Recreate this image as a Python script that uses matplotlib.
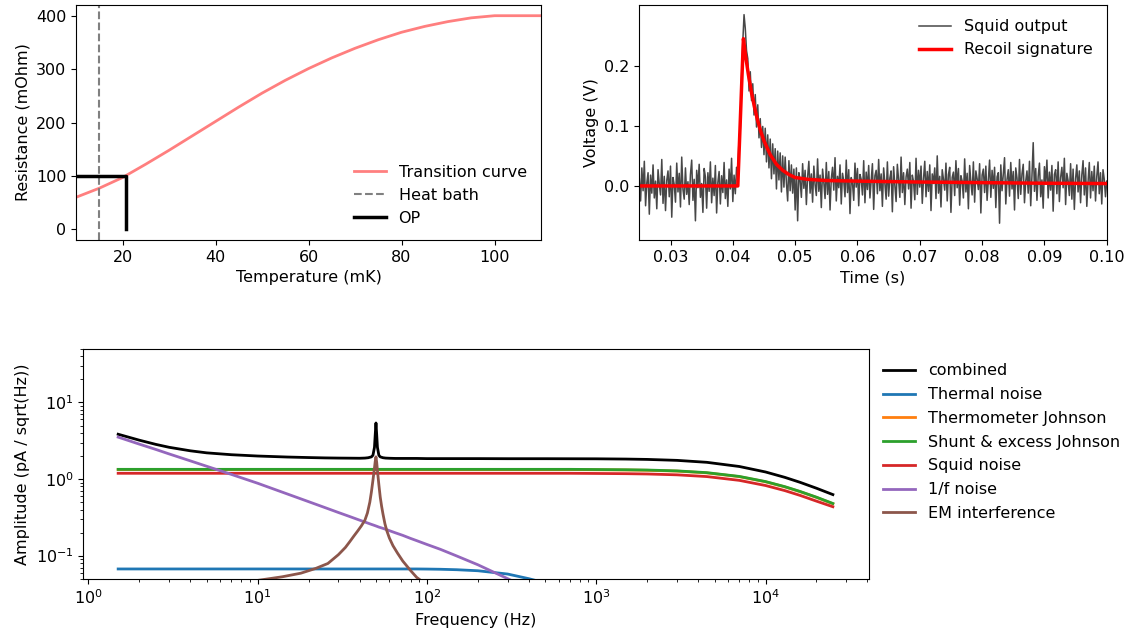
import matplotlib
matplotlib.use('Agg')
import matplotlib.pyplot as plt
import numpy as np

plt.rcParams['font.size'] = 11.5

# ---------------- transition curve ----------------
temp_mK = [10, 15, 20, 25, 30, 35, 40, 45, 50, 55, 60, 65, 70, 75, 80, 85, 90, 95, 100, 105, 110]
res_mOhm = [60, 77, 97, 122, 148, 175, 202, 229, 255, 279, 301, 321, 339, 355, 369, 380, 389, 396, 400, 400, 400]
bath_T = 15
op_T = 20.8
op_R = 100

# ---------------- squid trace (mV, 0.2 ms sampling from 25 ms) ----------------
t_start = 0.025
t_step = 0.0002
squid_mV = [
    12, -25, 30, -8, 41, -33, 5, 22, -47, 18, -12, 35, -20, 8, -38, 27, 3, -15, 44, -29,
    16, -41, 9, 25, -18, 33, -52, 14, 2, -27, 38, -10, 21, -35, 48, -6, -22, 30, -14, 7,
    -31, 19, 43, -24, 11, -58, 26, -3, 36, -19, 4, -44, 29, 15, -37, 22, -9, 40, -28, 13,
    -16, 34, -45, 6, 24, -30, 17, -11, 39, -21, 10, -34, 28, -5, 46, -26, 18, -13, 31,
    25, 80, 95, 180, 240, 285, 262, 225, 212, 158, 190, 142, 170, 118, 152, 98, 135, 80, 112, 64,
    99, 52, 96, 40, 85, 30, 78, 12, 70, 20, 62, -5, 58, 10, 55, -10, 50, -2, 48, 5,
    -25, 42, -8, 35, -12, 28, -40,
    30, -58, 22, 9, -19, 37, -4, 26, -31, 15, 41, -12, 20, -27, 33, 2, -16, 45, -9, 18,
    -36, 28, 6, -21, 39, -14, 24, -40, 12, 31, -7, 47, -25, 16, -3, 35, -30, 21, 8, -18,
    43, -11, 27, -46, 14, 5, -24, 38, -2, 29, -33, 19, 11, -15, 42, -28, 23, -6, 34, -20,
    9, 37, -39, 17, 26, -13, 44, -8, 20, -34, 30, 3, -22, 40, -17, 13, 25, -43, 32, 1,
    -26, 36, 10, -19, 48, -11, 22, -31, 15, 28, -5, 39, -37, 18, 7, -23, 46, -14, 26, -2,
    33, -29, 12, 41, -18, 24, -9, 35, -41, 20, 4, 30, -21, 50, -12, 16, -35, 27, 11, -7,
    38, -25, 19, 31, -44, 14, 23, -16, 42, -3, 29, -32, 17, 8, -20, 45, -10, 21, -38, 34,
    6, -15, 40, -27, 25, 12, -6, 37, -45, 18, 28, -11, 33, -24, 9, 43, -19, 26, -4, 31,
    -36, 15, 22, -62, 35, -8, 19, 47, -30, 11, 27, -17, 39, -5, 24, -40, 30, 13, -21, 44,
    -14, 20, 36, -28, 8, 25, -12, 41, -33, 17, 72, -9, 29, -24, 16, 38, -18, 10, -37, 32,
    5, 43, -20, 23, -7, 34, -42, 19, 27, -13, 40, -26, 14, 31, -3, 46, -31, 21, 9, -16,
    37, -22, 28, -39, 12, 35, -10, 25, -28, 18, 42, -15, 30, -34, 7, 39, -20, 24, -8, 33,
    -25, 16, 40, -13, 22, -30, 27, 11, -18, 8,
]
recoil_t = [0.025, 0.0408, 0.0417, 0.042, 0.0425, 0.043, 0.0435, 0.044, 0.0445, 0.045, 0.046,
            0.047, 0.048, 0.049, 0.05, 0.052, 0.055, 0.06, 0.07, 0.08, 0.09, 0.1]
recoil_V = [0, 0, 0.245, 0.22, 0.185, 0.155, 0.13, 0.108, 0.09, 0.075, 0.052,
            0.036, 0.026, 0.019, 0.014, 0.011, 0.009, 0.008, 0.0065, 0.0055, 0.0045, 0.004]

# ---------------- noise spectrum ----------------
freq = [1.5, 2, 2.5, 3, 4, 5, 7, 10, 15, 20, 25, 30, 35, 40, 43, 45, 47, 48, 49, 49.5,
        50, 50.5, 51, 52, 53, 55, 57, 60, 65, 72, 80, 87, 100, 120, 150, 200, 300, 400, 500, 700,
        1000, 1500, 2000, 3000, 4500, 7000, 10000, 13000, 16000, 20000, 25000]
combined = [3.85, 3.22, 2.84, 2.6, 2.34, 2.2, 2.08, 2.0, 1.94, 1.91, 1.89, 1.88, 1.875, 1.87, 1.88, 1.9, 1.95, 2.05, 2.6, 3.8,
            5.4, 3.8, 2.6, 2.05, 1.95, 1.9, 1.88, 1.87, 1.86, 1.86, 1.86, 1.86, 1.85, 1.85, 1.85, 1.85, 1.845, 1.845, 1.845, 1.842,
            1.839, 1.825, 1.806, 1.755, 1.655, 1.46, 1.238, 1.053, 0.907, 0.759, 0.627]
thermal = [0.067] * 32 + [0.0668, 0.0664, 0.0655, 0.0635, 0.0575, 0.05, 0.044, 0.035,
                          0.026, 0.018, 0.014, 0.0093, 0.0062, 0.004, 0.0028, 0.0021, 0.0017, 0.0014, 0.0011]
shunt = [1.34] * 40 + [1.333, 1.324, 1.312, 1.279, 1.213, 1.083, 0.928, 0.796, 0.689, 0.58, 0.48]
thermo = [1.33] * 40 + [1.323, 1.314, 1.302, 1.27, 1.204, 1.075, 0.921, 0.79, 0.684, 0.576, 0.476]
squid_noise = [1.19] * 40 + [1.184, 1.176, 1.165, 1.136, 1.078, 0.962, 0.824, 0.707, 0.612, 0.515, 0.435]
one_over_f = [3.53, 2.86, 2.44, 2.13, 1.73, 1.47, 1.15, 0.882, 0.638, 0.507, 0.424, 0.366, 0.324, 0.291, 0.275, 0.265, 0.256, 0.252, 0.248, 0.246,
              0.244, 0.242, 0.24, 0.236, 0.233, 0.227, 0.221, 0.212, 0.199, 0.184, 0.168, 0.157, 0.14, 0.121, 0.099, 0.076, 0.05, 0.037, 0.029, 0.02,
              0.0135, 0.0088, 0.0065, 0.0042, 0.0027, 0.0017, 0.0012, 0.0009, 0.0007, 0.0006, 0.0005]

em_freq = [1.5, 3, 5, 7, 10, 14, 18, 22, 26, 30, 33, 35, 37, 39, 41, 43, 44.5, 46, 47, 48,
           49, 49.5, 50, 50.5, 51, 52, 53, 54, 55, 56.5, 58, 60, 63, 67, 72, 80, 87, 95, 110, 150,
           300, 1000, 25000]
em = [0.039, 0.04, 0.042, 0.044, 0.0475, 0.053, 0.059, 0.068, 0.079, 0.103, 0.128, 0.152, 0.18, 0.21, 0.245, 0.29, 0.36, 0.5, 0.68, 0.97,
      1.4, 1.7, 1.95, 1.65, 1.3, 0.85, 0.58, 0.44, 0.35, 0.26, 0.21, 0.17, 0.135, 0.108, 0.085, 0.064, 0.052, 0.045, 0.036, 0.022,
      0.01, 0.004, 0.0004]

fig = plt.figure(figsize=(11.26, 6.36), dpi=100)
ax1 = fig.add_axes([0.0675, 0.6226, 0.413, 0.3695])
ax2 = fig.add_axes([0.5678, 0.6226, 0.4151, 0.3695])
ax3 = fig.add_axes([0.074, 0.0901, 0.6975, 0.3612])

# transition curve
ax1.plot(temp_mK, res_mOhm, color='red', alpha=0.5, lw=2, label='Transition curve')
ax1.axvline(bath_T, color='gray', ls='--', lw=1.5, label='Heat bath')
ax1.plot([temp_mK[0], op_T, op_T], [op_R, op_R, 0], color='k', lw=2.5, label='OP')
ax1.set_xlim(10, 110)
ax1.set_ylim(-20, 420)
ax1.set_xlabel('Temperature (mK)')
ax1.set_ylabel('Resistance (mOhm)')
ax1.legend(loc='lower right', frameon=False)

# squid output
t_squid = t_start + t_step * np.arange(len(squid_mV))
ax2.plot(t_squid, np.array(squid_mV) / 1000, color='k', alpha=0.72, lw=1.1, label='Squid output')
ax2.plot(recoil_t, recoil_V, color='red', lw=2.5, label='Recoil signature')
ax2.set_xlim(0.025, 0.1)
ax2.set_ylim(-0.09, 0.301)
ax2.set_yticks([0.0, 0.1, 0.2])
ax2.set_xlabel('Time (s)')
ax2.set_ylabel('Voltage (V)')
ax2.legend(loc='upper right', frameon=False)

# noise spectrum
ax3.plot(freq, combined, color='k', lw=2, label='combined')
ax3.plot(freq, thermal, color='C0', lw=2, label='Thermal noise')
ax3.plot(freq, thermo, color='C1', lw=2, label='Thermometer Johnson')
ax3.plot(freq, shunt, color='C2', lw=2, label='Shunt & excess Johnson')
ax3.plot(freq, squid_noise, color='C3', lw=2, label='Squid noise')
ax3.plot(freq, one_over_f, color='C4', lw=2, label='1/f noise')
ax3.plot(em_freq, em, color='C5', lw=2, label='EM interference')
ax3.set_xscale('log')
ax3.set_yscale('log')
ax3.set_xlim(0.934, 40700)
ax3.set_ylim(0.05, 50)
ax3.set_xlabel('Frequency (Hz)')
ax3.set_ylabel('Amplitude (pA / sqrt(Hz))')
ax3.legend(loc='upper left', bbox_to_anchor=(1.0, 1.0), frameon=False, labelspacing=0.55)

fig.savefig('out.png', dpi=100)
